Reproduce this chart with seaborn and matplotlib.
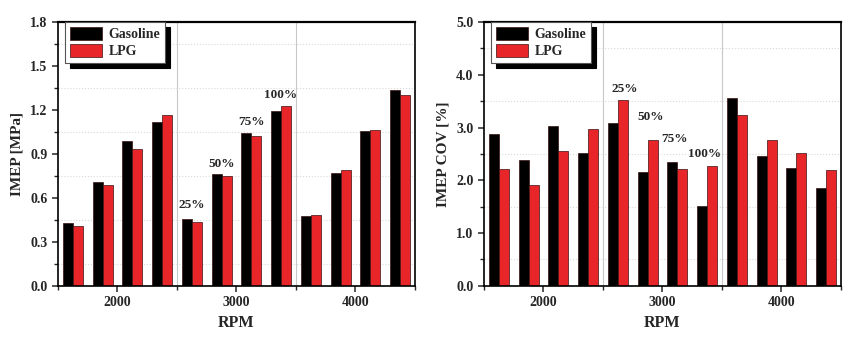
import numpy as np
import pandas as pd
import matplotlib
matplotlib.use("Agg")
import matplotlib.pyplot as plt
import seaborn as sns
from matplotlib.ticker import FixedLocator

# ---------------- data ----------------
rpm = [2000] * 4 + [3000] * 4 + [4000] * 4
load = ["25%", "50%", "75%", "100%"] * 3
fuels = ["Gasoline", "LPG"]

imep_gasoline = [0.43, 0.71, 0.99, 1.115, 0.455, 0.765, 1.04, 1.195, 0.48, 0.77, 1.055, 1.335]
imep_lpg = [0.41, 0.69, 0.935, 1.165, 0.435, 0.75, 1.02, 1.23, 0.485, 0.79, 1.06, 1.30]

cov_gasoline = [2.87, 2.38, 3.03, 2.52, 3.08, 2.15, 2.34, 1.51, 3.56, 2.46, 2.23, 1.86]
cov_lpg = [2.22, 1.91, 2.55, 2.98, 3.52, 2.77, 2.22, 2.27, 3.24, 2.76, 2.51, 2.20]

rpm_ticks = ["2000", "3000", "4000"]
load_labels = ["25%", "50%", "75%", "100%"]
imep_label_y = [0.51, 0.79, 1.08, 1.26]
cov_label_y = [3.62, 3.09, 2.67, 2.38]
cov_label_dx = [0.25, 0.1, -0.1, -0.1]

# ---------------- style ----------------
sns.set_style("ticks")
plt.rcParams["font.family"] = ["Liberation Serif", "DejaVu Serif"]
plt.rcParams["font.weight"] = "bold"
plt.rcParams["axes.labelweight"] = "bold"

RED = "#e8262a"
palette = {"Gasoline": "black", "LPG": RED}

keys = [f"{r}-{l}" for r, l in zip(rpm, load)]


def make_df(g, l):
    return pd.DataFrame({
        "cond": keys * 2,
        "fuel": ["Gasoline"] * 12 + ["LPG"] * 12,
        "value": list(g) + list(l),
    })


fig = plt.figure(figsize=(8.52, 3.44), dpi=100)
ax1 = fig.add_axes([0.068, 0.169, 0.419, 0.767])
ax2 = fig.add_axes([0.568, 0.169, 0.419, 0.767])

panels = [
    (ax1, make_df(imep_gasoline, imep_lpg), "IMEP [MPa]", (0, 1.8), np.arange(0, 1.81, 0.3), "{:.1f}",
     imep_label_y, [0, 0, 0, 0]),
    (ax2, make_df(cov_gasoline, cov_lpg), "IMEP COV [%]", (0, 5.0), np.arange(0, 5.01, 1.0), "{:.1f}",
     cov_label_y, cov_label_dx),
]

for ax, df, ylabel, ylim, yt, fmt, ly, ldx in panels:
    sns.barplot(data=df, x="cond", y="value", hue="fuel", order=keys, hue_order=fuels,
                palette=palette, width=0.67, edgecolor="#3a1010", linewidth=0.5,
                errorbar=None, ax=ax, saturation=1)
    ax.set_xlim(-0.5, 11.5)
    ax.set_ylim(*ylim)
    ax.set_yticks(yt)
    ax.set_yticklabels([fmt.format(v) for v in yt])
    step = yt[1] - yt[0]
    minor_y = np.arange(step / 2, ylim[1], step)
    ax.yaxis.set_minor_locator(FixedLocator(minor_y))
    ax.set_xticks([1.5, 5.5, 9.5])
    ax.set_xticklabels(rpm_ticks)
    ax.xaxis.set_minor_locator(FixedLocator([-0.5, 3.5, 7.5, 11.5]))
    ax.tick_params(axis="both", which="major", direction="out", length=4, width=1.1,
                   labelsize=10)
    ax.tick_params(axis="both", which="minor", direction="out", length=3, width=1.0)
    for t in ax.get_xticklabels() + ax.get_yticklabels():
        t.set_fontweight("bold")
    # grid: vertical separators, dotted horizontal minor lines
    for xb in [3.5, 7.5]:
        ax.axvline(xb, color="#c8c8c8", lw=0.8, zorder=0)
    for yv in minor_y:
        ax.axhline(yv, color="#dadada", lw=0.8, ls=":", zorder=0)
    for s in ax.spines.values():
        s.set_linewidth(1.2)
        s.set_color("black")
    ax.spines["top"].set_linewidth(1.6)
    ax.set_xlabel("RPM", fontsize=11.5, fontweight="bold", labelpad=4)
    ax.set_ylabel(ylabel, fontsize=11, fontweight="bold", labelpad=5)
    # load annotations over the 3000 rpm group
    for i, (lab, yy, dx) in enumerate(zip(load_labels, ly, ldx)):
        ax.text(4 + i + dx, yy, lab, ha="center", va="bottom", fontsize=9.5, fontweight="bold")
    leg = ax.legend(loc="upper left", bbox_to_anchor=(0.02, 1.0), borderaxespad=0,
                    fontsize=10, frameon=True, fancybox=False,
                    shadow={"ox": 3.5, "oy": -3.5, "color": "black", "alpha": 1},
                    handlelength=2.3, handleheight=1.1, handletextpad=0.5,
                    labelspacing=0.2, borderpad=0.35)
    leg.get_frame().set_edgecolor("#555555")
    leg.get_frame().set_linewidth(0.8)
    leg.get_frame().set_alpha(1)
    for t in leg.get_texts():
        t.set_fontweight("bold")

fig.savefig("out.png", dpi=100)
